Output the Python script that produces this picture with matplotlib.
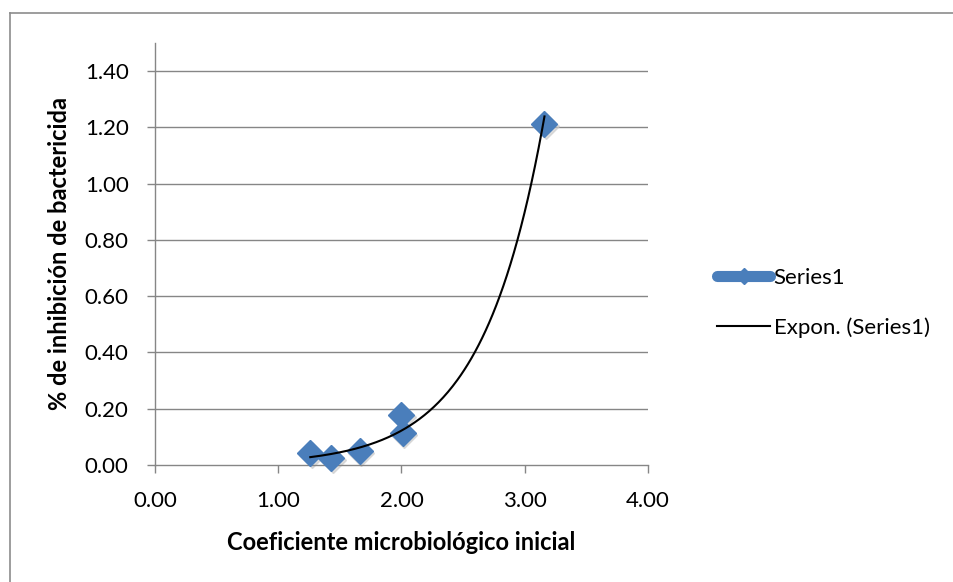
import numpy as np
import matplotlib.pyplot as plt
from matplotlib.lines import Line2D

x_vals = [1.26, 1.43, 1.66, 2.00, 2.01, 3.16]
y_vals = [0.043, 0.024, 0.051, 0.178, 0.113, 1.212]
x_ticks = [0.0, 1.0, 2.0, 3.0, 4.0]
y_ticks = [0.0, 0.2, 0.4, 0.6, 0.8, 1.0, 1.2, 1.4]
x_label = "Coeficiente microbiológico inicial"
y_label = "% de inhibición de bactericida"
series_name = "Series1"
trend_name = "Expon. (Series1)"

plt.rcParams['font.family'] = ['Lato', 'DejaVu Sans']

W, H = 954, 582
fig = plt.figure(figsize=(W/100, H/100), dpi=100)
ax = fig.add_axes([155/W, 1-465/H, (648-155)/W, (465-43)/H])

grid_c = '#868686'
ax.set_xlim(0, 4)
ax.set_ylim(0, 1.5)
ax.set_xticks(x_ticks)
ax.set_yticks(y_ticks)
ax.set_xticklabels([f"{v:.2f}" for v in x_ticks], fontsize=16)
ax.set_yticklabels([f"{v:.2f}" for v in y_ticks], fontsize=16)
for v in y_ticks[1:]:
    ax.axhline(v, color=grid_c, lw=1.0, zorder=0)
for s in ['top', 'right']:
    ax.spines[s].set_visible(False)
for s in ['left', 'bottom']:
    ax.spines[s].set_color(grid_c)
    ax.spines[s].set_linewidth(1.0)
ax.tick_params(axis='both', colors=grid_c, labelcolor='black', length=6, width=1.0, direction='out')
ax.tick_params(axis='x', pad=13)
ax.tick_params(axis='y', pad=13)

ax.set_xlabel(x_label, fontsize=17, fontweight='bold', labelpad=14)
ax.set_ylabel(y_label, fontsize=17, fontweight='bold', labelpad=10)

xa = np.array(x_vals); ya = np.array(y_vals)
b, a = np.polyfit(xa, np.log(ya), 1)
xs = np.linspace(xa.min(), xa.max(), 200)
# subtle shadow
ax.plot(xa + 0.012, ya - 0.008, linestyle='none', marker='D', markersize=13, color='#c8c8c8',
        alpha=0.6, zorder=2, clip_on=False)
ax.plot(xa, ya, linestyle='none', marker='D', markersize=13, color='#4a7ebb',
        markeredgecolor='#4a7ebb', zorder=3, clip_on=False)
ax.plot(xs, np.exp(a + b*xs), color='black', lw=1.5, zorder=4)

handles = [Line2D([0], [0], color='#4a7ebb', lw=8, marker='D', markersize=8, solid_capstyle='round'),
           Line2D([0], [0], color='black', lw=1.5)]
fig.legend(handles, [series_name, trend_name], loc='center left',
           bbox_to_anchor=(697/W, 1-303/H), frameon=False, fontsize=16,
           handlelength=2.4, handletextpad=0.15, labelspacing=1.3)

fig.add_artist(Line2D([10/W, 10/W], [0, 1-13/H], color='#8c8c8c', lw=1.2))
fig.add_artist(Line2D([10/W, 1], [1-13/H, 1-13/H], color='#8c8c8c', lw=1.2))

fig.savefig('out.png', dpi=100)
